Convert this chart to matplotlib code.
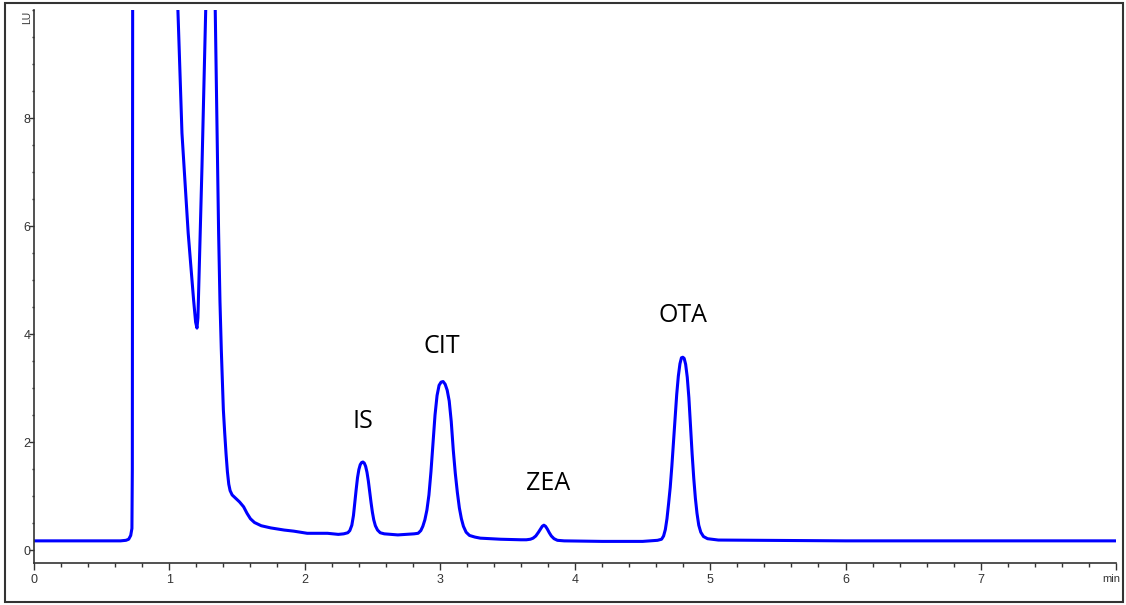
import matplotlib
matplotlib.use("Agg")
import matplotlib.pyplot as plt
import matplotlib.transforms as mtransforms
from matplotlib.patches import Rectangle
from matplotlib.ticker import MultipleLocator

# ----- Data ---------------------------------------------------

# retention time (min)
time = [0.00, 0.50, 0.64, 0.68, 0.70, 0.715, 0.724, 0.727, 0.73,
        # solvent front / early peaks (off scale)
        1.04, 1.064, 1.094, 1.14, 1.18, 1.195, 1.205, 1.212, 1.222, 1.242, 1.27, 1.285, 1.325,
        1.34, 1.355, 1.365, 1.375, 1.385, 1.40, 1.41, 1.42, 1.43, 1.44, 1.45, 1.465, 1.49,
        1.52, 1.55, 1.575, 1.60, 1.63, 1.68, 1.75, 1.85, 1.92, 2.02, 2.10, 2.17, 2.25,
        # IS
        2.29, 2.32, 2.335, 2.35, 2.362, 2.372, 2.382, 2.392, 2.402, 2.412, 2.422, 2.432,
        2.442, 2.452, 2.462, 2.472, 2.482, 2.492, 2.502, 2.512, 2.524, 2.54, 2.56, 2.59,
        2.69, 2.81,
        # CIT
        2.84, 2.86, 2.875, 2.89, 2.905, 2.92, 2.935, 2.95, 2.965, 2.98, 2.995, 3.01, 3.025,
        3.04, 3.055, 3.07, 3.085, 3.10, 3.115, 3.13, 3.145, 3.16, 3.175, 3.195, 3.22, 3.26,
        3.30, 3.45, 3.60,
        # ZEA
        3.64, 3.67, 3.69, 3.71, 3.73, 3.745, 3.758, 3.77, 3.782, 3.795, 3.81, 3.825, 3.845,
        3.87, 3.92, 4.20, 4.50,
        # OTA
        4.61, 4.64, 4.655, 4.668, 4.68, 4.692, 4.704, 4.716, 4.728, 4.74, 4.752, 4.764,
        4.776, 4.787, 4.797, 4.807, 4.818, 4.83, 4.842, 4.854, 4.866, 4.878, 4.89, 4.902,
        4.915, 4.93, 4.95, 4.98, 5.06, 6.0, 7.0, 8.0]

# fluorescence signal (LU)
signal = [0.17, 0.17, 0.17, 0.18, 0.20, 0.27, 0.40, 1.5, 12.0,
          12.0, 10.0, 7.72, 5.87, 4.63, 4.22, 4.11, 4.30, 5.24, 7.10, 10.0, 12.0, 12.0,
          10.0, 7.5, 5.87, 4.6, 3.7, 2.6, 2.17, 1.78, 1.45, 1.22, 1.10, 1.02, 0.96,
          0.89, 0.80, 0.68, 0.58, 0.51, 0.45, 0.41, 0.37, 0.35, 0.31, 0.31, 0.31, 0.29,
          0.30, 0.32, 0.36, 0.46, 0.64, 0.88, 1.12, 1.34, 1.49, 1.58, 1.62, 1.63,
          1.61, 1.55, 1.44, 1.28, 1.08, 0.88, 0.70, 0.56, 0.45, 0.37, 0.32, 0.30,
          0.28, 0.30,
          0.31, 0.36, 0.44, 0.56, 0.74, 1.02, 1.45, 1.98, 2.50, 2.86, 3.05, 3.11, 3.12,
          3.07, 2.96, 2.76, 2.38, 1.85, 1.42, 1.07, 0.78, 0.58, 0.44, 0.33, 0.27, 0.24,
          0.22, 0.20, 0.19,
          0.19, 0.20, 0.22, 0.26, 0.33, 0.39, 0.44, 0.46, 0.44, 0.39, 0.32, 0.26, 0.21,
          0.18, 0.17, 0.16, 0.16,
          0.18, 0.20, 0.26, 0.38, 0.58, 0.86, 1.16, 1.55, 2.00, 2.45, 2.88, 3.22,
          3.45, 3.56, 3.57, 3.55, 3.44, 3.20, 2.82, 2.30, 1.78, 1.33, 0.96, 0.68,
          0.46, 0.33, 0.25, 0.21, 0.185, 0.17, 0.17, 0.17]

peak_names = ["IS", "CIT", "ZEA", "OTA"]
peak_label_x = [2.43, 3.015, 3.804, 4.797]
peak_label_y = [2.26, 3.65, 1.11, 4.22]

xtick_values = [0, 1, 2, 3, 4, 5, 6, 7, 8]
xtick_labels = ["0", "1", "2", "3", "4", "5", "6", "7", ""]
x_unit = "min"
y_unit = "LU"
ytick_values = [0, 2, 4, 6, 8]

# ----- Plot -------------------------------------------------

W, H = 1126, 605
fig = plt.figure(figsize=(W / 100, H / 100), dpi=100)
ax = fig.add_axes([34 / W, 1 - 563 / H, (1116 - 34) / W, (563 - 10) / H])

ax.plot(time, signal, color='#0000ff', lw=2.2, solid_joinstyle='round')

ax.set_xlim(0, 8)
ax.set_ylim(-0.24, 10)

for side in ['top', 'right']:
    ax.spines[side].set_visible(False)
for side in ['left', 'bottom']:
    ax.spines[side].set_color('#333333')
    ax.spines[side].set_linewidth(1.2)

ax.set_xticks(xtick_values)
ax.set_xticklabels(xtick_labels)
ax.set_yticks(ytick_values)
ax.xaxis.set_minor_locator(MultipleLocator(0.2))
ax.yaxis.set_minor_locator(MultipleLocator(0.5))

for lab in ax.get_xticklabels() + ax.get_yticklabels():
    lab.set_fontfamily('Liberation Sans')
    lab.set_fontsize(9)

ax.tick_params(axis='x', which='major', length=5, width=1, color='#333333',
               labelcolor='#333333', pad=3)
ax.tick_params(axis='x', which='minor', length=3, width=1, color='#333333')
ax.tick_params(axis='y', which='major', length=3.6, width=1, color='#333333',
               labelcolor='#333333', pad=-1)
ax.tick_params(axis='y', which='minor', length=1.5, width=1, color='#333333')

# unit labels: "min" under the last x tick, "LU" at the top of the y axis
below_axis = ax.get_xaxis_transform() + mtransforms.ScaledTranslation(
    0, -11 / 100, fig.dpi_scale_trans)
ax.text(7.965, 0, x_unit, ha='center', va='top', fontsize=8,
        family='Liberation Sans', color='#333333', clip_on=False, transform=below_axis)
ax.text(-0.052, 9.87, y_unit, rotation=90, ha='center', va='center',
        fontsize=7.5, family='Liberation Sans', color='#333333', clip_on=False)

# peak labels
for name, px, py in zip(peak_names, peak_label_x, peak_label_y):
    ax.text(px, py, name, ha='center', va='baseline', fontsize=18,
            family='Open Sans', color='black')

# outer frame around the picture
fig.add_artist(Rectangle((5 / W, 3 / H), 1118 / W, 599 / H, transform=fig.transFigure,
                         fill=False, ec='#333333', lw=1.5))

plt.savefig("out.png", dpi=100)
